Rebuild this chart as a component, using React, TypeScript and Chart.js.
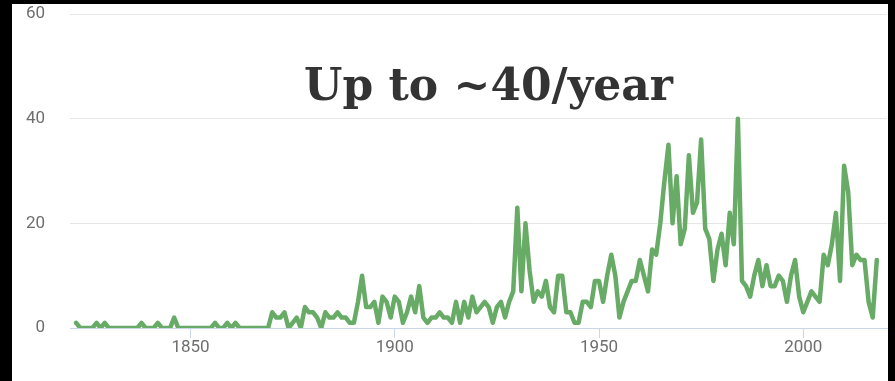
import React, { useEffect, useRef } from "react";
import { Chart, registerables } from "chart.js";

Chart.register(...registerables);

const startYear = 1822;
// yearly values, split by period
const values1822to1869 = [
  1, 0, 0, 0, 0, 1, 0, 1, 0,
  0, 0, 0, 0, 0, 0, 0,
  1, 0, 0, 0, 1, 0, 0, 0, 2, 0,
  0, 0, 0, 0, 0, 0, 0, 0,
  1, 0, 0, 1, 0, 1,
  0, 0, 0, 0, 0, 0, 0, 0,
];
const values1870s = [3, 2, 2, 3, 0, 1, 2, 0, 4, 3];
const values1880s = [3, 2, 0, 3, 2, 2, 3, 2, 2, 1];
const values1890s = [1, 5, 10, 4, 4, 5, 1, 6, 5, 2];
const values1900s = [6, 5, 1, 3, 6, 3, 8, 2, 1, 2];
const values1910s = [2, 3, 2, 2, 1, 5, 1, 5, 2, 6];
const values1920s = [3, 4, 5, 4, 1, 4, 5, 2, 5, 7];
const values1930s = [23, 7, 20, 11, 5, 7, 6, 9, 4, 3];
const values1940s = [10, 10, 3, 3, 1, 1, 5, 5, 4, 9];
const values1950s = [9, 5, 10, 14, 10, 2, 5, 7, 9, 9];
const values1960s = [13, 10, 7, 15, 14, 20, 28, 35, 20, 29];
const values1970s = [16, 19, 33, 22, 24, 36, 19, 17, 9, 15];
const values1980s = [18, 12, 22, 16, 40, 9, 8, 6, 10, 13];
const values1990s = [8, 12, 8, 8, 10, 9, 5, 10, 13, 6];
const values2000s = [3, 5, 7, 6, 5, 14, 12, 16, 22, 9];
const values2010to2018 = [31, 26, 12, 14, 13, 13, 5, 2, 13];

const xTickValues = [1850, 1900, 1950, 2000];
const yTickValues = [0, 20, 40, 60];
const titleText = "Up to ~40/year";

const allValues = [
  ...values1822to1869,
  ...values1870s,
  ...values1880s,
  ...values1890s,
  ...values1900s,
  ...values1910s,
  ...values1920s,
  ...values1930s,
  ...values1940s,
  ...values1950s,
  ...values1960s,
  ...values1970s,
  ...values1980s,
  ...values1990s,
  ...values2000s,
  ...values2010to2018,
];

export default function App() {
  const ref = useRef<HTMLCanvasElement | null>(null);

  useEffect(() => {
    if (!ref.current) return;
    const framePlugin = {
      id: "frame",
      beforeDraw(chart: any) {
        const ctx = chart.ctx;
        ctx.save();
        ctx.fillStyle = "#000000";
        ctx.fillRect(0, 0, chart.width, chart.height);
        ctx.fillStyle = "#ffffff";
        ctx.fillRect(12, 4, 876, 377);
        ctx.restore();
      },
    };
    const titlePlugin = {
      id: "overlayTitle",
      afterDatasetsDraw(chart: any) {
        const ctx = chart.ctx;
        ctx.save();
        ctx.font = 'bold 44px "DejaVu Serif"';
        ctx.fillStyle = "#333333";
        ctx.textAlign = "center";
        ctx.textBaseline = "alphabetic";
        ctx.fillText(titleText, 488.5, 100);
        ctx.restore();
      },
    };

    const chart = new Chart(ref.current, {
      type: "line",
      data: {
        datasets: [
          {
            data: allValues.map((v, i) => ({ x: startYear + i, y: v })),
            borderColor: "#67ab66",
            borderWidth: 4.5,
            pointRadius: 0,
            tension: 0,
            borderJoinStyle: "round",
            borderCapStyle: "round",
            fill: false,
          },
        ],
      },
      options: {
        animation: false,
        responsive: false,
        events: [],
        layout: { padding: { left: 0, top: 14, right: 8, bottom: 0 } },
        plugins: {
          legend: { display: false },
          tooltip: { enabled: false },
          title: { display: false },
        },
        scales: {
          x: {
            type: "linear",
            min: 1820.5,
            max: 2020.5,
            afterBuildTicks: (axis: any) => {
              axis.ticks = xTickValues.map((v) => ({ value: v }));
            },
            afterFit: (axis: any) => {
              axis.height = 53;
            },
            grid: {
              display: true,
              drawOnChartArea: false,
              drawTicks: true,
              tickLength: 10,
              color: "#ccd6eb",
            },
            border: { display: true, color: "#ccd6eb", width: 1 },
            ticks: {
              padding: 0,
              maxRotation: 0,
              color: "#6e6e6e",
              font: { family: "Roboto", size: 17 },
              callback: (v: any) => String(v),
            },
          },
          y: {
            min: 0,
            max: 60,
            afterBuildTicks: (axis: any) => {
              axis.ticks = yTickValues.map((v) => ({ value: v }));
            },
            afterFit: (axis: any) => {
              axis.width = 70;
            },
            grid: {
              color: "#e6e6e6",
              drawTicks: true,
              tickLength: 25,
              tickColor: "rgba(0,0,0,0)",
              lineWidth: 1,
            },
            border: { display: false },
            ticks: {
              padding: 0,
              color: "#6e6e6e",
              font: { family: "Roboto", size: 17 },
            },
          },
        },
      },
      plugins: [framePlugin, titlePlugin],
    } as any);

    return () => chart.destroy();
  }, []);

  return (
    <div style={{ position: "fixed", left: 0, top: 0, width: 895, height: 381, background: "#000" }}>
      <canvas ref={ref} width={895} height={381} style={{ display: "block", width: 895, height: 381 }} />
    </div>
  );
}
